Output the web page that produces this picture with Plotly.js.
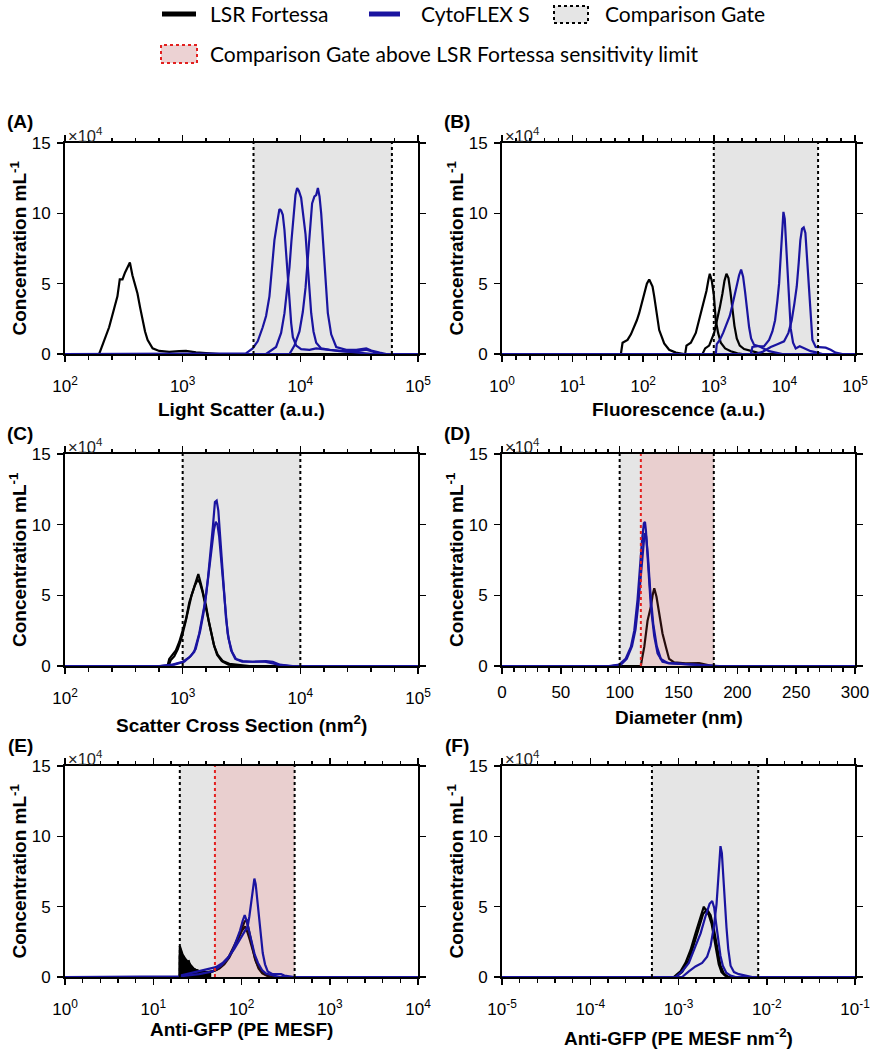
<!DOCTYPE html>
<html>
<head>
<meta charset="utf-8">
<script src="https://cdn.plot.ly/plotly-3.0.1.min.js"></script>
<style>
  html, body { margin: 0; padding: 0; background: #fff; }
  #chart { width: 872px; height: 1050px; }
</style>
</head>
<body>
<div id="chart"></div>
<script>
// concentrations are in units of 10^4 per mL (axis label shows x10^4)

// --- (A) light scatter ---
const aGate = [4000, 60000];
const aLsrX = [100, 195, 201, 237, 261, 279, 292, 308, 324, 340, 356, 374, 394, 413, 435, 456, 479, 503, 555, 632, 769, 935, 1067, 1297, 1579, 2046, 100000];
const aLsrY = [0, 0, 0.3, 1.9, 3.2, 4.1, 5.3, 5.3, 5.8, 6.2, 6.5, 5.6, 5.0, 4.3, 3.3, 2.4, 1.6, 1.0, 0.4, 0.22, 0.15, 0.2, 0.22, 0.12, 0.05, 0, 0];
const aCyto1X = [100, 3450, 3935, 4342, 4789, 5114, 5462, 5754, 6025, 6346, 6640, 6864, 7093, 7331, 7575, 7829, 8090, 8360, 8640, 9225, 10160, 11960, 13640, 16600, 21550, 27980, 36330, 44180, 50330, 100000];
const aCyto1Y = [0, 0.05, 0.4, 0.9, 1.9, 2.7, 4.1, 6.0, 8.1, 9.3, 10.3, 10.2, 9.9, 8.8, 7.1, 5.2, 3.4, 2.2, 1.2, 0.6, 0.35, 0.3, 0.4, 0.3, 0.2, 0.15, 0.3, 0.1, 0, 0];
const aCyto2X = [100, 5114, 6222, 6864, 7331, 7680, 8090, 8395, 8730, 9090, 9395, 9710, 10160, 10640, 11070, 11580, 11960, 12370, 12940, 13640, 15040, 17700, 23000, 29870, 36330, 41400, 100000];
const aCyto2Y = [0, 0, 0.5, 1.5, 2.9, 4.3, 6.2, 8.0, 9.8, 11.3, 11.8, 11.6, 11.1, 9.9, 8.5, 6.2, 4.5, 2.9, 1.6, 0.8, 0.4, 0.3, 0.2, 0.1, 0.05, 0, 0];
const aCyto3X = [100, 8090, 8910, 9830, 10500, 11070, 11580, 12110, 12590, 13180, 13640, 14100, 14560, 15040, 15530, 16040, 16600, 17130, 18290, 20180, 24550, 29870, 36330, 40090, 47210, 53810, 100000];
const aCyto3Y = [0, 0, 0.6, 1.6, 3.0, 4.7, 6.8, 8.7, 10.7, 11.2, 11.3, 11.8, 11.2, 10.0, 8.2, 6.2, 4.5, 2.9, 1.4, 0.5, 0.3, 0.3, 0.4, 0.25, 0.1, 0, 0];

// --- (B) fluorescence ---
const bGate = [1000, 30000];
const bLsr1X = [1, 48.3, 51, 60, 67, 74.6, 81.3, 87.7, 97.9, 105.6, 112.7, 121.6, 128.3, 135.6, 143.2, 151.1, 159.6, 168.5, 183.7, 198.2, 233, 290, 380, 100000];
const bLsr1Y = [0, 0, 0.8, 1.0, 1.4, 1.9, 2.4, 2.9, 3.8, 4.4, 5.0, 5.3, 5.1, 4.8, 4.1, 3.4, 2.6, 1.7, 1.2, 0.75, 0.3, 0.1, 0, 0];
const bLsr2X = [1, 393, 410, 473, 556, 655, 730, 788, 841, 878, 937, 1000, 1067, 1151, 1256, 1446, 1740, 2163, 2546, 100000];
const bLsr2Y = [0, 0, 0.6, 0.8, 1.5, 2.9, 3.9, 4.5, 5.3, 5.7, 5.2, 4.2, 2.4, 1.5, 0.8, 0.4, 0.2, 0.05, 0, 0];
const bLsr3X = [1, 691, 754, 859, 1011, 1127, 1216, 1326, 1416, 1511, 1613, 1722, 1838, 1961, 2115, 2332, 2687, 3342, 4150, 5156, 100000];
const bLsr3Y = [0, 0, 0.4, 0.6, 1.5, 2.5, 3.3, 4.3, 5.2, 5.7, 5.4, 4.4, 3.2, 2.0, 1.1, 0.6, 0.35, 0.2, 0.1, 0, 0];
const bCyto1X = [1, 1067, 1102, 1216, 1356, 1511, 1683, 1838, 1983, 2115, 2281, 2437, 2601, 2776, 2963, 3163, 3376, 3724, 4383, 5156, 6069, 7540, 9370, 100000];
const bCyto1Y = [0, 0, 0.7, 1.0, 1.5, 2.1, 2.7, 3.5, 4.3, 5.0, 5.6, 6.0, 5.5, 4.4, 3.0, 1.9, 1.1, 0.65, 0.55, 0.4, 0.2, 0.1, 0, 0];
const bCyto2X = [1, 3342, 3525, 4150, 5156, 6069, 6761, 7379, 7960, 8407, 8880, 9274, 9684, 10114, 10560, 11030, 11640, 12290, 13270, 14460, 16480, 18980, 23580, 29300, 34500, 100000];
const bCyto2Y = [0, 0, 0.5, 0.55, 0.55, 1.0, 1.6, 2.4, 3.8, 5.0, 7.0, 8.8, 10.1, 9.6, 7.8, 5.8, 3.6, 1.8, 0.8, 0.4, 0.55, 0.4, 0.2, 0.1, 0, 0];
const bCyto3X = [1, 3928, 4884, 6410, 7960, 9890, 11400, 12700, 13860, 14960, 15960, 16830, 17770, 18780, 19830, 20950, 22100, 23350, 24920, 27750, 32660, 38440, 45240, 53240, 66200, 100000];
const bCyto3Y = [0, 0, 0.15, 0.5, 0.7, 0.9, 1.5, 2.4, 3.6, 4.8, 6.5, 8.1, 8.9, 9.0, 8.6, 6.8, 4.5, 2.6, 1.0, 0.5, 0.45, 0.45, 0.3, 0.1, 0, 0];

// --- (C) scatter cross section ---
const cGate = [1000, 10000];
const cLsr1X = [100, 743, 769, 820, 875, 935, 1000, 1067, 1138, 1214, 1297, 1358, 1430, 1506, 1577, 1662, 1751, 1856, 1983, 2188, 2494, 3034, 3690, 100000];
const cLsr1Y = [0, 0, 0.5, 0.8, 1.1, 1.7, 2.6, 3.3, 4.5, 5.3, 6.0, 6.5, 5.8, 5.0, 4.3, 3.2, 2.3, 1.4, 0.8, 0.35, 0.15, 0.05, 0, 0];
const cLsr2X = [100, 760, 790, 850, 910, 980, 1050, 1120, 1190, 1270, 1340, 1400, 1470, 1550, 1640, 1730, 1840, 1960, 2150, 2450, 3000, 100000];
const cLsr2Y = [0, 0, 0.4, 0.7, 1.2, 2.0, 3.0, 4.1, 5.0, 5.7, 6.1, 5.9, 5.3, 4.4, 3.4, 2.4, 1.5, 0.8, 0.35, 0.1, 0, 0];
const cCyto1X = [100, 632, 820, 1000, 1138, 1254, 1383, 1476, 1556, 1640, 1728, 1808, 1880, 1944, 2009, 2076, 2145, 2230, 2333, 2460, 2627, 2841, 3236, 3936, 4787, 5115, 5828, 6640, 7566, 8620, 100000];
const cCyto1Y = [0, 0, 0.1, 0.3, 0.6, 1.0, 2.3, 3.5, 4.6, 6.2, 8.0, 9.9, 11.6, 11.7, 11.0, 9.4, 7.6, 5.5, 3.4, 1.9, 1.0, 0.5, 0.35, 0.3, 0.35, 0.35, 0.3, 0.1, 0.05, 0, 0];
const cCyto2X = [100, 650, 850, 1030, 1170, 1290, 1410, 1500, 1580, 1670, 1760, 1840, 1910, 1975, 2040, 2110, 2190, 2290, 2410, 2580, 2800, 3200, 4000, 5000, 6500, 8000, 100000];
const cCyto2Y = [0, 0, 0.1, 0.3, 0.7, 1.2, 2.5, 3.7, 5.0, 6.6, 8.3, 9.6, 10.2, 10.0, 9.2, 7.8, 6.0, 4.0, 2.3, 1.1, 0.5, 0.3, 0.3, 0.3, 0.1, 0, 0];

// --- (D) diameter ---
const dGate = [100, 180];
const dLimit = 118;
const dLsrX = [0, 118, 119, 120.9, 123.7, 126.5, 128, 129.4, 131.3, 133.6, 136.4, 139.3, 142, 146.3, 156, 167.6, 176, 181.7, 300];
const dLsrY = [0, 0, 0.5, 1.35, 3.2, 4.2, 5.0, 5.5, 4.9, 3.7, 2.3, 1.35, 0.5, 0.25, 0.18, 0.21, 0.05, 0, 0];
const dCyto1X = [0, 91, 99.6, 105, 109.5, 112.4, 115.2, 117, 119, 120.6, 121.5, 122.3, 124.5, 126.5, 129.4, 132.2, 136.4, 142, 153, 170, 184.5, 300];
const dCyto1Y = [0, 0, 0.1, 0.5, 1.35, 2.5, 4.7, 7.0, 8.9, 10.1, 10.2, 9.6, 7.0, 4.2, 2.1, 0.9, 0.3, 0.2, 0.15, 0.05, 0, 0];
const dCyto2X = [0, 93, 101, 106, 110.5, 113.5, 116, 118, 120, 121.2, 122.5, 124, 126, 128.5, 131.5, 135, 141, 150, 168, 182, 300];
const dCyto2Y = [0, 0, 0.1, 0.5, 1.4, 2.6, 4.5, 6.6, 8.4, 9.4, 9.2, 7.8, 5.3, 3.0, 1.4, 0.5, 0.2, 0.15, 0.05, 0, 0];

// --- (E) anti-GFP (PE MESF) ---
const eGate = [20, 400];
const eLimit = 50;
const eLsrNoiseX = [20.0, 20.6, 21.5, 22.4, 23.0, 24.5, 25.5, 26.7, 29.1, 33.2, 37.8, 45.4];
const eLsrNoiseY = [2.2, 1.9, 1.6, 1.5, 1.3, 1.1, 1.2, 0.8, 0.6, 0.45, 0.4, 0.35];
const eLsr1X = [1, 19.9, 20.0, 20.6, 21.5, 23.0, 24.5, 26.7, 29.1, 33.2, 39.5, 47.1, 56, 63.9, 72.8, 82.9, 92.9, 101.4, 109.6, 116.5, 124.8, 133.8, 146.1, 159.4, 176.9, 207, 246.4, 10000];
const eLsr1Y = [0, 0, 2.2, 1.9, 1.6, 1.3, 1.1, 0.8, 0.55, 0.4, 0.35, 0.4, 0.6, 0.9, 1.4, 2.1, 2.8, 3.3, 3.6, 3.2, 2.6, 1.9, 1.1, 0.6, 0.25, 0.05, 0, 0];
const eLsr2X = [1, 19.9, 20.0, 22, 25, 30, 36, 44, 52, 60, 70, 80, 90, 100, 108, 114, 121, 130, 142, 156, 172, 200, 240, 10000];
const eLsr2Y = [0, 0, 1.6, 1.2, 0.8, 0.5, 0.35, 0.35, 0.5, 0.8, 1.3, 2.0, 2.7, 3.4, 3.9, 4.1, 3.4, 2.4, 1.3, 0.6, 0.25, 0.05, 0, 0];
const eCyto1X = [1, 19.9, 20.0, 27.9, 39.5, 51.3, 61.1, 72.8, 82.9, 92.9, 101.4, 110.6, 117.5, 122.7, 128.3, 133.8, 139.9, 144.8, 150, 156.6, 165, 174, 184.8, 198.2, 225.8, 280.8, 306, 364.6, 398, 10000];
const eCyto1Y = [0, 0, 0.1, 0.3, 0.5, 0.7, 1.0, 1.5, 2.0, 2.5, 2.9, 3.3, 3.6, 4.3, 5.2, 6.3, 7.0, 6.6, 5.6, 4.3, 3.0, 1.7, 0.9, 0.4, 0.2, 0.2, 0.1, 0.05, 0, 0];
const eCyto2X = [1, 19.9, 20.0, 33.2, 47.1, 58.5, 69.6, 79.4, 88.2, 96.2, 103.1, 108.7, 114.5, 122.7, 131.5, 141, 153.9, 170.9, 189.7, 225.8, 268.8, 10000];
const eCyto2Y = [0, 0, 0.05, 0.2, 0.4, 0.8, 1.3, 1.9, 2.6, 3.3, 4.0, 4.4, 4.0, 3.2, 2.3, 1.6, 1.0, 0.5, 0.25, 0.1, 0, 0];

// --- (F) anti-GFP per area ---
const fGate = [5e-4, 8e-3];
const fLsr1X = [1e-5, 8.85e-4, 9.66e-4, 1.054e-3, 1.2e-3, 1.367e-3, 1.558e-3, 1.702e-3, 1.824e-3, 1.937e-3, 2.06e-3, 2.21e-3, 2.37e-3, 2.52e-3, 2.67e-3, 2.86e-3, 3.07e-3, 3.36e-3, 3.72e-3, 0.1];
const fLsr1Y = [0, 0, 0.2, 0.4, 1.0, 1.9, 3.1, 3.9, 4.6, 5.0, 4.7, 4.4, 3.8, 2.8, 1.8, 0.9, 0.35, 0.1, 0, 0];
const fLsr2X = [1e-5, 9.25e-4, 1.1e-3, 1.31e-3, 1.49e-3, 1.702e-3, 1.905e-3, 2.11e-3, 2.31e-3, 2.52e-3, 2.75e-3, 2.99e-3, 3.26e-3, 3.66e-3, 0.1];
const fLsr2Y = [0, 0, 0.35, 1.2, 2.3, 3.5, 4.5, 4.8, 4.4, 3.4, 2.0, 0.8, 0.25, 0, 0];
const fCyto1X = [1e-5, 9.25e-4, 1.1e-3, 1.31e-3, 1.558e-3, 1.78e-3, 2.02e-3, 2.25e-3, 2.41e-3, 2.54e-3, 2.67e-3, 2.82e-3, 2.99e-3, 3.18e-3, 3.48e-3, 3.89e-3, 4.43e-3, 0.1];
const fCyto1Y = [0, 0, 0.4, 1.0, 2.2, 3.1, 4.3, 5.2, 5.4, 4.9, 3.8, 2.6, 1.5, 0.8, 0.3, 0.1, 0, 0];
const fCyto2X = [1e-5, 1.1e-3, 1.31e-3, 1.558e-3, 1.853e-3, 2.11e-3, 2.31e-3, 2.52e-3, 2.70e-3, 2.82e-3, 2.89e-3, 2.99e-3, 3.10e-3, 3.21e-3, 3.36e-3, 3.50e-3, 3.66e-3, 3.89e-3, 4.25e-3, 4.83e-3, 5.75e-3, 6.85e-3, 0.1];
const fCyto2Y = [0, 0, 0.4, 0.75, 1.0, 1.45, 2.2, 3.6, 5.2, 6.8, 8.4, 9.3, 8.8, 7.0, 5.5, 3.5, 2.0, 0.8, 0.35, 0.2, 0.1, 0, 0];

// --- ticks and labels ---
const yTickVals = [0, 5, 10, 15];
const yTickText = ['0', '5', '10', '15'];
const logTicksA = [100, 1000, 10000, 100000];
const logTextA = ['10<sup>2</sup>', '10<sup>3</sup>', '10<sup>4</sup>', '10<sup>5</sup>'];
const logTicksB = [1, 10, 100, 1000, 10000, 100000];
const logTextB = ['10<sup>0</sup>', '10<sup>1</sup>', '10<sup>2</sup>', '10<sup>3</sup>', '10<sup>4</sup>', '10<sup>5</sup>'];
const linTicksD = [0, 50, 100, 150, 200, 250, 300];
const logTicksE = [1, 10, 100, 1000, 10000];
const logTextE = ['10<sup>0</sup>', '10<sup>1</sup>', '10<sup>2</sup>', '10<sup>3</sup>', '10<sup>4</sup>'];
const logTicksF = [1e-5, 1e-4, 1e-3, 1e-2, 1e-1];
const logTextF = ['10<sup>-5</sup>', '10<sup>-4</sup>', '10<sup>-3</sup>', '10<sup>-2</sup>', '10<sup>-1</sup>'];

const xTitles = ['Light Scatter (a.u.)', 'Fluorescence (a.u.)', 'Scatter Cross Section (nm<sup>2</sup>)',
                 'Diameter (nm)', 'Anti-GFP (PE MESF)', 'Anti-GFP (PE MESF nm<sup>-2</sup>)'];
const panelLabels = ['(A)', '(B)', '(C)', '(D)', '(E)', '(F)'];
const legendNames = ['LSR Fortessa', 'CytoFLEX S', 'Comparison Gate', 'Comparison Gate above LSR Fortessa sensitivity limit'];

// --- styles ---
const LSR_COLOR = '#000000';
const CYTO_COLOR = '#1a14a0';
const GATE_FILL = '#e5e5e5';
const LIMIT_FILL = 'rgba(255, 82, 82, 0.15)';
const LIMIT_LINE = '#e3201f';
const FONT = 'Liberation Sans, Arial, Helvetica, sans-serif';
const LEGEND_FONT = 'Lato, Liberation Sans, sans-serif';
const W = 872, H = 1050;
const px = (v) => v / W;
const py = (v) => 1 - v / H;

const colL = [65, 418], colR = [502, 855];
const rows = [[143, 354], [454, 666], [766, 977]];

const panels = [
    { xa: 'x', ya: 'y', col: colL, row: rows[0], type: 'log', range: [2, 5], tv: logTicksA, tt: logTextA, minor: 0.2,
      gate: aGate, limit: null, lsr: [[aLsrX, aLsrY]], cyto: [[aCyto1X, aCyto1Y], [aCyto2X, aCyto2Y], [aCyto3X, aCyto3Y]], titleY: 409, standoff: 10 },
    { xa: 'x2', ya: 'y2', col: colR, row: rows[0], type: 'log', range: [0, 5], tv: logTicksB, tt: logTextB, minor: 0.2,
      gate: bGate, limit: null, lsr: [[bLsr1X, bLsr1Y], [bLsr2X, bLsr2Y], [bLsr3X, bLsr3Y]], cyto: [[bCyto1X, bCyto1Y], [bCyto2X, bCyto2Y], [bCyto3X, bCyto3Y]], titleY: 409, standoff: 10 },
    { xa: 'x3', ya: 'y3', col: colL, row: rows[1], type: 'log', range: [2, 5], tv: logTicksA, tt: logTextA, minor: 0.2,
      gate: cGate, limit: null, lsr: [[cLsr1X, cLsr1Y], [cLsr2X, cLsr2Y]], cyto: [[cCyto2X, cCyto2Y], [cCyto1X, cCyto1Y]], titleY: 724, standoff: 10 },
    { xa: 'x4', ya: 'y4', col: colR, row: rows[1], type: 'linear', range: [0, 300], tv: linTicksD, tt: linTicksD.map(String), minor: 10,
      gate: dGate, limit: dLimit, lsr: [[dLsrX, dLsrY]], cyto: [[dCyto2X, dCyto2Y], [dCyto1X, dCyto1Y]], titleY: 717, standoff: 4 },
    { xa: 'x5', ya: 'y5', col: colL, row: rows[2], type: 'log', range: [0, 4], tv: logTicksE, tt: logTextE, minor: 0.2,
      gate: eGate, limit: eLimit, lsr: [[eLsr1X, eLsr1Y], [eLsr2X, eLsr2Y]], noise: [eLsrNoiseX, eLsrNoiseY], cyto: [[eCyto2X, eCyto2Y], [eCyto1X, eCyto1Y]], titleY: 1029, standoff: 10 },
    { xa: 'x6', ya: 'y6', col: colR, row: rows[2], type: 'log', range: [-5, -1], tv: logTicksF, tt: logTextF, minor: 0.2,
      gate: fGate, limit: null, lsr: [[fLsr1X, fLsr1Y], [fLsr2X, fLsr2Y]], cyto: [[fCyto1X, fCyto1Y], [fCyto2X, fCyto2Y]], titleY: 1037, standoff: 10 },
];

const yTop = yTickVals[yTickVals.length - 1];
const traces = [];
const layout = {
    width: W, height: H,
    margin: { l: 0, r: 0, t: 0, b: 0 },
    showlegend: false,
    paper_bgcolor: '#fff',
    plot_bgcolor: '#fff',
    font: { family: FONT, color: '#000' },
    annotations: [],
    shapes: [],
};

function regionTrace(p, x0, x1, color) {
    return { x: [x0, x1, x1, x0, x0], y: [0, 0, yTop, yTop, 0], mode: 'lines', fill: 'toself', fillcolor: color,
             line: { width: 0 }, xaxis: p.xa, yaxis: p.ya, hoverinfo: 'skip' };
}
function vline(p, x, color) {
    return { x: [x, x], y: [0, yTop], mode: 'lines', line: { color: color, width: 2, dash: 'dot' },
             xaxis: p.xa, yaxis: p.ya, hoverinfo: 'skip' };
}
function curve(p, xy, color) {
    return { x: xy[0], y: xy[1], mode: 'lines', line: { color: color, width: 2.2 }, xaxis: p.xa, yaxis: p.ya, hoverinfo: 'skip' };
}

panels.forEach((p, i) => {
    const n = i === 0 ? '' : String(i + 1);

    // gate background, Fortessa, sensitivity overlay, CytoFLEX, gate lines
    traces.push(regionTrace(p, p.gate[0], p.gate[1], GATE_FILL));
    if (p.noise) {
        traces.push({ x: p.noise[0], y: p.noise[1], mode: 'lines', fill: 'tozeroy', fillcolor: LSR_COLOR,
                      line: { color: LSR_COLOR, width: 1 }, xaxis: p.xa, yaxis: p.ya, hoverinfo: 'skip' });
    }
    p.lsr.forEach(xy => traces.push(curve(p, xy, LSR_COLOR)));
    if (p.limit !== null) traces.push(regionTrace(p, p.limit, p.gate[1], LIMIT_FILL));
    p.cyto.forEach(xy => traces.push(curve(p, xy, CYTO_COLOR)));
    traces.push(vline(p, p.gate[0], '#000'));
    traces.push(vline(p, p.gate[1], '#000'));
    if (p.limit !== null) traces.push(vline(p, p.limit, LIMIT_LINE));

    layout['xaxis' + n] = {
        domain: [px(p.col[0]), px(p.col[1])], anchor: p.ya, type: p.type, range: p.range,
        tickmode: 'array', tickvals: p.tv, ticktext: p.tt,
        ticks: 'outside', ticklen: 6, tickwidth: 1.5, tickcolor: '#000', ticklabelstandoff: p.standoff,
        showline: true, linewidth: 2, linecolor: '#000', mirror: 'ticks',
        showgrid: false, zeroline: false, fixedrange: true,
        tickfont: { family: FONT, size: 17, color: '#000' },
        minor: { dtick: p.minor, tick0: 0, ticks: 'outside', ticklen: 3.5, tickwidth: 1.5, tickcolor: '#000', showgrid: false },
    };
    layout['yaxis' + n] = {
        domain: [py(p.row[1]), py(p.row[0])], anchor: p.xa, range: [0, yTop],
        tickmode: 'array', tickvals: yTickVals, ticktext: yTickText,
        ticks: 'outside', ticklen: 6, tickwidth: 1.5, tickcolor: '#000', ticklabelstandoff: 3,
        showline: true, linewidth: 2, linecolor: '#000', mirror: 'ticks',
        showgrid: false, zeroline: false, fixedrange: true,
        tickfont: { family: FONT, size: 17, color: '#000' },
    };

    const cx = (p.col[0] + p.col[1]) / 2;
    const cy = (p.row[0] + p.row[1]) / 2;
    const ann = layout.annotations;
    ann.push({ xref: 'paper', yref: 'paper', x: px(cx), y: py(p.titleY), text: '<b>' + xTitles[i] + '</b>',
               showarrow: false, xanchor: 'center', yanchor: 'middle', font: { size: 19 } });
    ann.push({ xref: 'paper', yref: 'paper', x: px(p.col[0] - 47), y: py(cy), text: '<b>Concentration mL<sup>-1</sup></b>',
               textangle: -90, showarrow: false, xanchor: 'center', yanchor: 'middle', font: { size: 19 } });
    ann.push({ xref: 'paper', yref: 'paper', x: px(p.col[0] - 45), y: py(p.row[0] - 21), text: '<b>' + panelLabels[i] + '</b>',
               showarrow: false, xanchor: 'center', yanchor: 'middle', font: { size: 19 } });
    ann.push({ xref: 'paper', yref: 'paper', x: px(p.col[0] + 1), y: py(p.row[0]), yshift: -4, text: '×10<sup>4</sup>',
               showarrow: false, xanchor: 'left', yanchor: 'bottom', font: { size: 16.5, color: '#222' } });
});

// --- legend drawn at the top ---
const legendRow1 = 14, legendRow2 = 54;
layout.shapes.push(
    { type: 'line', xref: 'paper', yref: 'paper', x0: px(162), x1: px(196), y0: py(legendRow1), y1: py(legendRow1), line: { color: LSR_COLOR, width: 5 } },
    { type: 'line', xref: 'paper', yref: 'paper', x0: px(369), x1: px(400), y0: py(legendRow1), y1: py(legendRow1), line: { color: CYTO_COLOR, width: 5 } },
    { type: 'rect', xref: 'paper', yref: 'paper', x0: px(554), x1: px(588), y0: py(23), y1: py(6), fillcolor: GATE_FILL, line: { color: '#000', width: 2, dash: 'dot' } },
    { type: 'rect', xref: 'paper', yref: 'paper', x0: px(161), x1: px(197), y0: py(63), y1: py(45), fillcolor: '#ecd2d3', line: { color: LIMIT_LINE, width: 2, dash: 'dot' } },
);
[[208, legendRow1, legendNames[0]], [419, legendRow1, legendNames[1]], [603, legendRow1, legendNames[2]], [208, legendRow2, legendNames[3]]]
    .forEach(([x, y, t]) => layout.annotations.push({
        xref: 'paper', yref: 'paper', x: px(x), y: py(y), text: t, showarrow: false,
        xanchor: 'left', yanchor: 'middle', font: { family: LEGEND_FONT, size: 21, color: '#000' },
    }));

Plotly.newPlot('chart', traces, layout, { staticPlot: true });
</script>
</body>
</html>
